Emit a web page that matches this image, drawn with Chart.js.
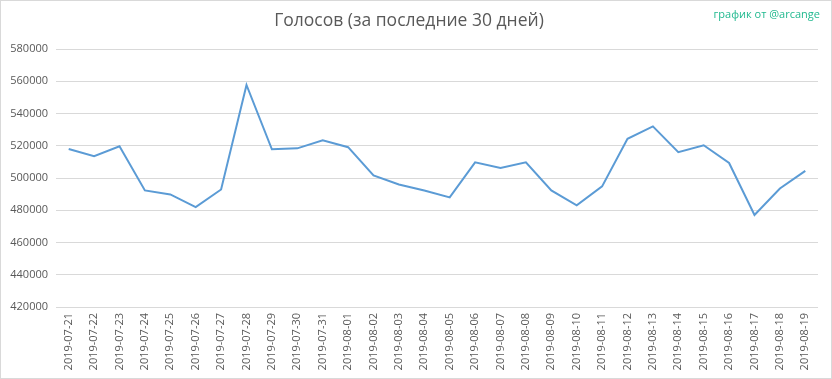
<!DOCTYPE html>
<html>
<head>
<meta charset="utf-8">
<script src="https://cdn.jsdelivr.net/npm/chart.js@4"></script>
<style>
  html, body { margin:0; padding:0; background:#fff; }
  #wrap { position:relative; width:832px; height:379px; }
  #credit {
    position:absolute; right:12px; top:6px;
    font:11px "Open Sans", sans-serif; color:#21b98f;
  }
</style>
</head>
<body>
<div id="wrap">
  <canvas id="chart" width="832" height="379"></canvas>
  <div id="credit">график от @arcange</div>
</div>
<script>
// chart data
const dates = [
  '2019-07-21','2019-07-22','2019-07-23','2019-07-24','2019-07-25','2019-07-26',
  '2019-07-27','2019-07-28','2019-07-29','2019-07-30','2019-07-31','2019-08-01',
  '2019-08-02','2019-08-03','2019-08-04','2019-08-05','2019-08-06','2019-08-07',
  '2019-08-08','2019-08-09','2019-08-10','2019-08-11','2019-08-12','2019-08-13',
  '2019-08-14','2019-08-15','2019-08-16','2019-08-17','2019-08-18','2019-08-19'
];
const votes = [
  518000, 513500, 519700, 492300, 489800, 481900,
  492900, 557700, 517800, 518400, 523400, 519100,
  501600, 496000, 492200, 488000, 509700, 506200,
  509700, 492300, 483100, 494800, 524300, 532000,
  516000, 520300, 509300, 477100, 493500, 504400
];
const yMin = 420000, yMax = 580000, yStep = 20000;

const txt = '#595959', grid = '#d9d9d9';

// white background + thin frame, like the exported picture
const frame = {
  id:'frame',
  beforeDraw(chart) {
    const c = chart.ctx;
    c.save();
    c.fillStyle = '#fff';
    c.fillRect(0, 0, chart.width, chart.height);
    c.strokeStyle = grid;
    c.lineWidth = 1;
    c.strokeRect(0.5, 0.5, chart.width - 1, chart.height - 1);
    c.restore();
  }
};

new Chart(document.getElementById('chart'), {
  type:'line',
  data:{
    labels:dates,
    datasets:[{
      data:votes,
      borderColor:'#5b9bd5',
      borderWidth:2,
      pointRadius:0,
      tension:0,
      fill:false
    }]
  },
  options:{
    responsive:false,
    animation:false,
    layout:{padding:{left:0, right:14, top:0, bottom:0}},
    plugins:{
      legend:{display:false},
      tooltip:{enabled:false},
      title:{
        display:true,
        text:'Голосов (за последние 30 дней)',
        color:txt,
        font:{family:'"Open Sans", sans-serif', size:17.5, weight:'normal'},
        padding:{top:11, bottom:17}
      }
    },
    scales:{
      x:{
        offset:true,
        grid:{display:false, drawTicks:false},
        border:{display:false},
        ticks:{
          color:txt, autoSkip:false, maxRotation:90, minRotation:90, padding:6,
          font:{family:'"Open Sans", sans-serif', size:11}
        },
        afterFit(a) { a.height = 72; }
      },
      y:{
        min:yMin, max:yMax,
        grid:{color:grid, drawTicks:false},
        border:{display:false},
        ticks:{
          stepSize:yStep, color:txt, padding:8,
          font:{family:'"Open Sans", sans-serif', size:11},
          callback:v => String(v)
        },
        afterFit(a) { a.width = 56; }
      }
    }
  },
  plugins:[frame]
});
</script>
</body>
</html>
